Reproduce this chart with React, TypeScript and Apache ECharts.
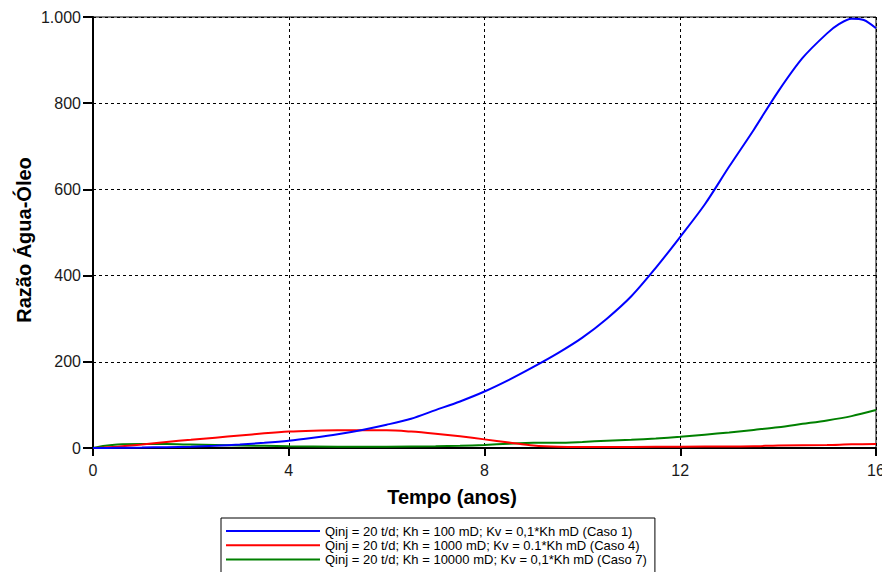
import React, { useEffect, useRef } from "react";
import * as echarts from "echarts";

const xTicks = [0, 4, 8, 12, 16];
const yTicks = [0, 200, 400, 600, 800, 1000];

const seriesNames = [
  "Qinj = 20 t/d; Kh = 100 mD; Kv = 0,1*Kh mD (Caso 1)",
  "Qinj = 20 t/d; Kh = 1000 mD; Kv = 0.1*Kh mD (Caso 4)",
  "Qinj = 20 t/d; Kh = 10000 mD; Kv = 0,1*Kh mD (Caso 7)",
];

const caso1X = [0, 0.5, 1, 1.5, 2, 2.5, 3, 3.5, 4, 4.5, 5, 5.5, 6, 6.5, 7, 7.5, 8, 8.5, 9, 9.5, 10, 10.5, 11, 11.5, 12, 12.5, 13, 13.5, 14, 14.5, 15, 15.25, 15.5, 15.75, 16];
const caso1Y = [0, 0.5, 1, 2, 3, 5, 8, 12, 17, 24, 32, 42, 54, 68, 88, 108, 131, 158, 188, 220, 256, 300, 352, 418, 490, 565, 653, 738, 827, 905, 962, 984, 996, 993, 974];

const caso4X = [0, 0.5, 1, 1.5, 2, 2.5, 3, 3.5, 4, 4.5, 5, 5.5, 6, 6.5, 7, 7.5, 8, 8.5, 9, 9.5, 10, 11, 12, 13, 13.5, 14, 15, 15.5, 16];
const caso4Y = [0, 3, 8, 14, 19, 24, 29, 34, 38, 40, 41, 41, 41, 38, 33, 27, 20, 13, 6, 3, 2.5, 2.5, 3, 3.5, 4, 6, 7, 8.5, 9];

const caso7X = [0, 0.25, 0.5, 1, 1.5, 2, 3, 4, 5, 6, 7, 7.5, 8, 8.5, 9, 9.5, 10, 10.5, 11, 11.5, 12, 12.5, 13, 13.5, 14, 14.5, 15, 15.5, 16];
const caso7Y = [0, 5, 8, 9, 9, 8, 6, 4, 3, 3, 4, 5, 7, 10, 12, 12, 14, 17, 19, 22, 26, 31, 36, 42, 48, 56, 64, 74, 88];

const seriesColors = ["#0000ff", "#ff0000", "#008000"];

const xAxisTitle = "Tempo (anos)";
const yAxisTitle = "Razão Água-Óleo";

const FONT = "'Liberation Sans', Arial, sans-serif";

function pairs(xs: number[], ys: number[]) {
  return xs.map((x, i) => [x, ys[i]]);
}

export default function App() {
  const ref = useRef<HTMLDivElement>(null);

  useEffect(() => {
    if (!ref.current) return;
    const chart = echarts.init(ref.current, null, { renderer: "svg" });
    const data = [pairs(caso1X, caso1Y), pairs(caso4X, caso4Y), pairs(caso7X, caso7Y)];
    chart.setOption({
      animation: false,
      backgroundColor: "#ffffff",
      grid: {
        left: 93,
        right: 6,
        top: 17,
        bottom: 124,
        outerBoundsMode: "none",
        containLabel: false,
        show: true,
        borderColor: "#000",
        borderWidth: 1,
        backgroundColor: "transparent",
      },
      xAxis: {
        type: "value",
        min: xTicks[0],
        max: xTicks[xTicks.length - 1],
        interval: 4,
        axisLine: { show: true, onZero: false, lineStyle: { color: "#000", width: 2 } },
        axisTick: { show: true, length: 8, lineStyle: { color: "#000", width: 2 } },
        axisLabel: {
          margin: 14,
          fontSize: 16,
          color: "#1a1a1a",
          fontFamily: FONT,
        },
        splitLine: { show: true, lineStyle: { color: "#000", width: 1, type: [3, 3] } },
      },
      yAxis: {
        type: "value",
        min: yTicks[0],
        max: yTicks[yTicks.length - 1],
        interval: 200,
        axisLine: { show: true, onZero: false, lineStyle: { color: "#000", width: 2 } },
        axisTick: { show: true, length: 10, lineStyle: { color: "#000", width: 2 } },
        axisLabel: {
          margin: 12,
          fontSize: 16,
          color: "#1a1a1a",
          fontFamily: FONT,
          formatter: (v: number) => String(v).replace(/\B(?=(\d{3})+(?!\d))/g, "."),
        },
        splitLine: { show: true, lineStyle: { color: "#000", width: 1, type: [3, 3] } },
      },
      legend: {
        orient: "vertical",
        left: 221,
        top: 518,
        height: 80,
        padding: [6, 8, 12, 5],
        icon: "rect",
        itemWidth: 94,
        itemHeight: 2,
        itemGap: 0.2,
        borderColor: "#000",
        borderWidth: 1,
        backgroundColor: "#fff",
        textStyle: { fontSize: 13, fontFamily: FONT, color: "#000", lineHeight: 14 },
        data: seriesNames,
      },
      series: seriesNames.map((name, i) => ({
        name,
        type: "line",
        data: data[i],
        symbol: "none",
        smooth: 0.3,
        color: seriesColors[i],
        lineStyle: { width: 2, color: seriesColors[i] },
        z: 5 - i,
      })),
      graphic: [
        {
          type: "text",
          x: 452,
          y: 497,
          style: {
            text: xAxisTitle,
            font: `bold 20px ${FONT}`,
            fill: "#000",
            textAlign: "center",
            textVerticalAlign: "middle",
          },
        },
        {
          type: "text",
          x: 24,
          y: 240,
          rotation: Math.PI / 2,
          style: {
            text: yAxisTitle,
            font: `bold 20px ${FONT}`,
            fill: "#000",
            textAlign: "center",
            textVerticalAlign: "middle",
          },
        },
      ],
    });
    return () => chart.dispose();
  }, []);

  return (
    <div
      ref={ref}
      style={{ position: "absolute", left: 0, top: 0, width: 882, height: 572 }}
    />
  );
}
